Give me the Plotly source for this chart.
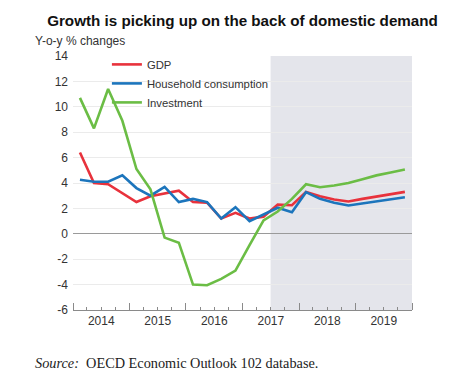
import pandas as pd
import plotly.graph_objects as go

# ---- data ----
quarters = [f"{y}Q{q}" for y in range(2014, 2020) for q in range(1, 5)]
gdp = [6.4, 4.0, 3.9, 3.2, 2.5, 2.95, 3.2, 3.4, 2.5, 2.45, 1.2, 1.65,
       1.2, 1.35, 2.3, 2.25, 3.3, 2.95, 2.7, 2.55, 2.75, 2.95, 3.1, 3.3]
household = [4.25, 4.1, 4.1, 4.6, 3.6, 3.0, 3.7, 2.5, 2.75, 2.5, 1.2, 2.1,
             1.0, 1.5, 2.05, 1.7, 3.28, 2.75, 2.45, 2.23, 2.4, 2.57, 2.72, 2.88]
investment = [10.7, 8.3, 11.4, 8.9, 5.1, 3.5, -0.3, -0.7, -4.0, -4.05, -3.55, -2.9,
              -0.9, 1.05, 1.75, 2.75, 3.9, 3.67, 3.8, 4.0, 4.3, 4.6, 4.83, 5.06]
series_names = ["GDP", "Household consumption", "Investment"]
y_tick_values = [-6, -4, -2, 0, 2, 4, 6, 8, 10, 12, 14]
y_tick_labels = ["-6", "-4", "-2", "0", "2", "4", "6", "8", "10", "12", "14"]
projection_start = "2017Q3"
title_text = "Growth is picking up on the back of domestic demand"
y_label = "Y-o-y % changes"
source_text = "<i>Source:</i>&nbsp; OECD Economic Outlook 102 database."

# ---- styles ----
colors = ["#E8323C", "#1C75BC", "#6BBD45"]
sans = "Liberation Sans, Arial, sans-serif"

periods = pd.PeriodIndex(quarters, freq="Q")
starts = periods.to_timestamp(how="start")
ends = (periods + 1).to_timestamp(how="start")
x_mid = starts + (ends - starts) / 2

x_start = starts[0]
x_end = ends[-1]
proj_x0 = pd.Period(projection_start, freq="Q").to_timestamp(how="start")

fig = go.Figure()
for name, vals, col in zip(series_names, [gdp, household, investment], colors):
    fig.add_trace(go.Scatter(x=x_mid, y=vals, mode="lines", name=name,
                             line=dict(color=col, width=2.6)))

fig.add_shape(type="rect", xref="x", yref="paper", x0=proj_x0, x1=x_end,
              y0=0, y1=1, fillcolor="#E4E5EB", line=dict(width=0), layer="below")

fig.update_layout(
    width=450, height=382,
    margin=dict(l=73, r=38, t=56, b=72),
    paper_bgcolor="white", plot_bgcolor="white",
    font=dict(family=sans, size=11.5, color="#333333"),
    title=dict(text="<b>" + title_text + "</b>", x=0.5, xref="paper",
               y=1 - 21 / 382, yref="container", yanchor="middle",
               font=dict(family=sans, size=15.2, color="#111111")),
    showlegend=True,
    legend=dict(x=0.1, xanchor="left", y=1.024, yanchor="top",
                bgcolor="rgba(0,0,0,0)", borderwidth=0,
                font=dict(family=sans, size=11.3, color="#333333"),
                tracegroupgap=0),
    xaxis=dict(type="date", range=[x_start, x_end], tick0=x_start, dtick="M12",
               ticklabelmode="period", tickformat="%Y",
               ticks="inside", ticklen=7, tickcolor="#8A8A8A", tickwidth=1,
               showline=True, linecolor="#8A8A8A", linewidth=1,
               showgrid=False, zeroline=False,
               tickfont=dict(size=12, color="#333333"),
               minor=dict(dtick="M3", tick0=x_start, ticks="inside", ticklen=3,
                          tickcolor="#8A8A8A", showgrid=False)),
    yaxis=dict(range=[-6, 14], tickmode="array", tickvals=y_tick_values,
               ticktext=y_tick_labels, showgrid=True,
               gridcolor="#EBEBEB", gridwidth=1, zeroline=True,
               zerolinecolor="#9A9A9A", zerolinewidth=1, showline=False,
               ticks="", ticklabelstandoff=4,
               tickfont=dict(size=12, color="#333333")),
    annotations=[
        dict(text=y_label, xref="paper", yref="paper", x=(33 - 73) / 339,
             y=(310 - 41) / 254, xanchor="left", yanchor="middle",
             showarrow=False, font=dict(family=sans, size=12, color="#333333")),
        dict(text=source_text, xref="paper", yref="paper", x=(33 - 73) / 339,
             y=(310 - 363) / 254, xanchor="left", yanchor="middle",
             showarrow=False, font=dict(family="Liberation Serif, serif",
                                        size=14.3, color="#222222")),
    ],
)

fig.write_html("out.html", config={"displayModeBar": False},
               post_script="document.body.style.margin='0px';")
